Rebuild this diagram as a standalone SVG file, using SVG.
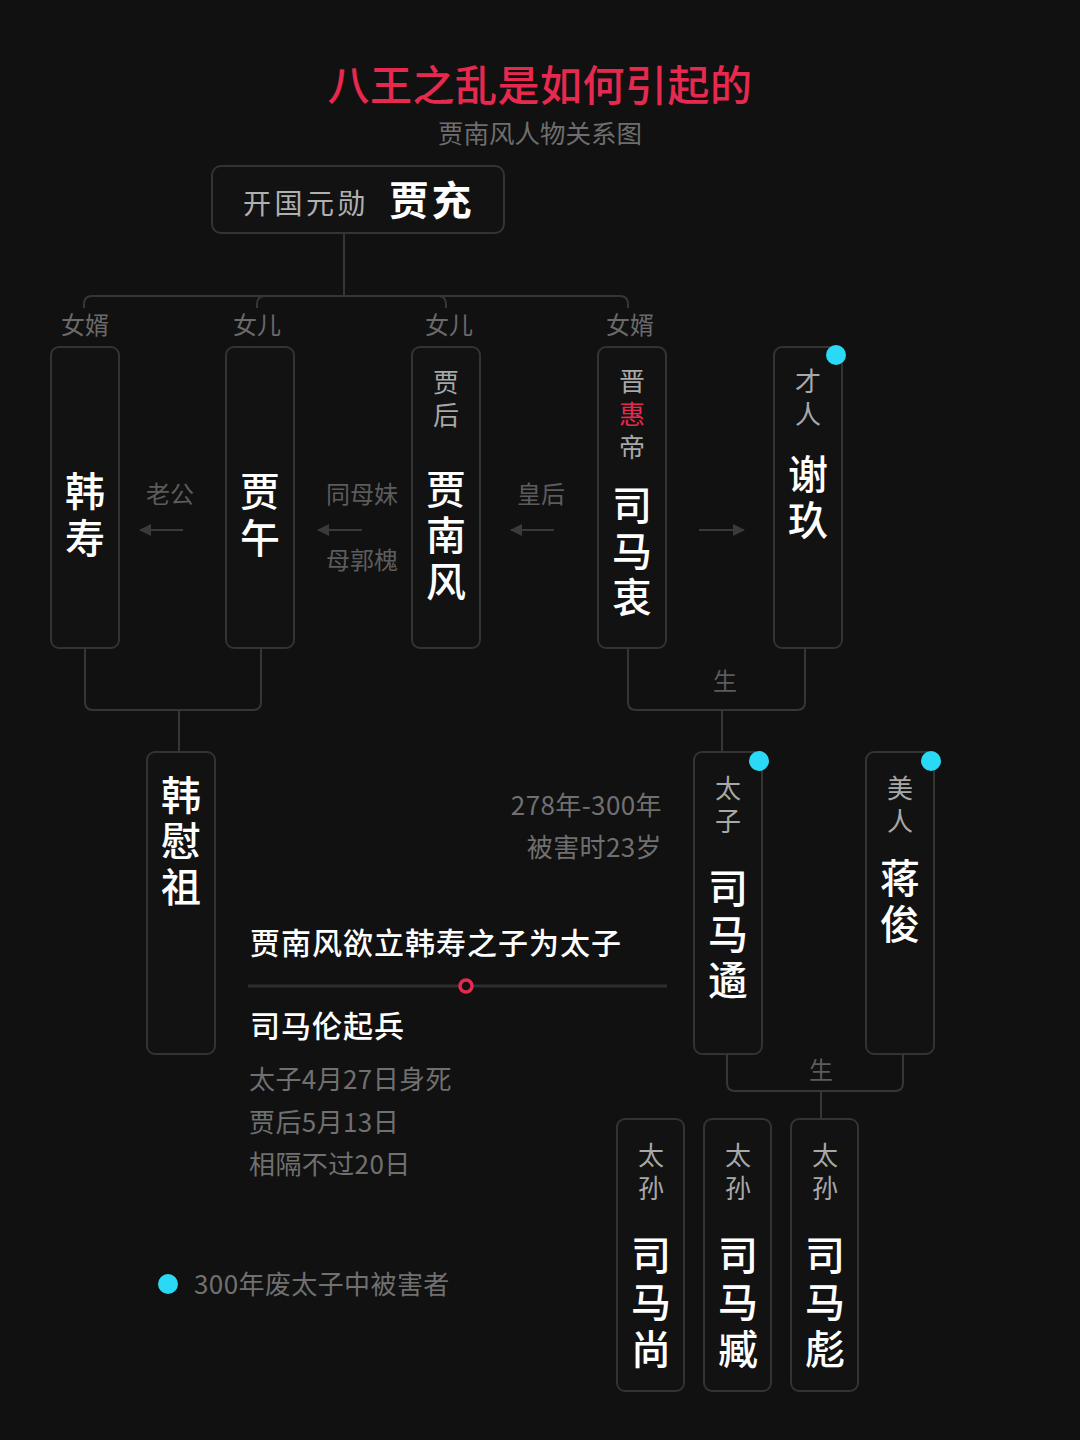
<svg xmlns="http://www.w3.org/2000/svg" width="1080" height="1440" viewBox="0 0 1080 1440">
<defs>
<style>
text{font-family:"Noto Sans CJK SC","Noto Sans",sans-serif;}
.box{fill:#121212;stroke:#333333;stroke-width:2;}
.line{fill:none;stroke:#363636;stroke-width:2;}
.name{fill:#ffffff;font-size:40px;font-weight:500;writing-mode:vertical-rl;text-orientation:upright;letter-spacing:6px;}
.sub{fill:#a8a8a8;font-size:26px;writing-mode:vertical-rl;text-orientation:upright;letter-spacing:7px;}
.rel{fill:#6a6a6a;font-size:24px;text-anchor:middle;}
.arrlab{fill:#5c5c5c;font-size:24px;text-anchor:middle;}
.gray{fill:#707070;font-size:26px;letter-spacing:0.4px;}
.white{fill:#ffffff;font-size:30px;font-weight:500;letter-spacing:1px;}
.dot{fill:#2ad9f5;}
.arr{stroke:#3a3a3a;stroke-width:2;fill:none;}
</style>
<marker id="ah2" viewBox="0 0 12 12" refX="11" refY="6" markerWidth="12" markerHeight="12" orient="auto" markerUnits="userSpaceOnUse">
<path d="M0,0 L12,6 L0,12 Z" fill="#3a3a3a"/>
</marker>
</defs>
<rect width="1080" height="1440" fill="#111111"/>

<g id="title">
<text x="540" y="101" text-anchor="middle" font-size="42" font-weight="500" fill="#e8294f" letter-spacing="0.5">八王之乱是如何引起的</text>
<text x="540" y="143" text-anchor="middle" font-size="25.5" fill="#6e6e6e">贾南风人物关系图</text>
</g>

<g id="connectors">
<path class="line" d="M344,233 V296"/>
<path class="line" d="M84,308 V304 Q84,296 92,296 H438 Q446,296 446,304 V308"/>
<path class="line" d="M257,308 V304 Q257,296 265,296 H620 Q628,296 628,304 V308"/>
<path class="line" d="M85,648 V702 Q85,710 93,710 H253 Q261,710 261,702 V648"/>
<path class="line" d="M179,710 V752"/>
<path class="line" d="M628,648 V702 Q628,710 636,710 H797 Q805,710 805,702 V648"/>
<path class="line" d="M722,710 V752"/>
<path class="line" d="M727,1054 V1083 Q727,1091 735,1091 H895 Q903,1091 903,1083 V1054"/>
<path class="line" d="M821,1091 V1119"/>
<line class="arr" x1="183" y1="530" x2="140" y2="530" marker-end="url(#ah2)"/>
<line class="arr" x1="362" y1="530" x2="318" y2="530" marker-end="url(#ah2)"/>
<line class="arr" x1="554" y1="530" x2="511" y2="530" marker-end="url(#ah2)"/>
<line class="arr" x1="699" y1="530" x2="744" y2="530" marker-end="url(#ah2)"/>
<text class="rel" x="85" y="334">女婿</text>
<text class="rel" x="257" y="334">女儿</text>
<text class="rel" x="449" y="334">女儿</text>
<text class="rel" x="630" y="334">女婿</text>
<text class="arrlab" x="170" y="503">老公</text>
<text class="arrlab" x="362" y="503">同母妹</text>
<text class="arrlab" x="362" y="569">母郭槐</text>
<text class="arrlab" x="541" y="503">皇后</text>
<text class="arrlab" x="725" y="690">生</text>
<text class="arrlab" x="821" y="1079">生</text>
</g>

<g id="jiachong">
<rect class="box" x="212" y="166" width="292" height="67" rx="9"/>
<text x="243" y="214" font-size="28" fill="#b0b0b0" letter-spacing="3.5">开国元勋</text>
<text x="389" y="215" font-size="40" font-weight="700" fill="#ffffff" letter-spacing="2.5">贾充</text>
</g>

<g id="hanshou">
<rect class="box" x="51" y="347" width="68" height="301" rx="8"/>
<text class="name" x="85" y="471" style="letter-spacing:7px">韩寿</text>
</g>

<g id="jiawu">
<rect class="box" x="226" y="347" width="68" height="301" rx="8"/>
<text class="name" x="260" y="471" style="letter-spacing:7px">贾午</text>
</g>

<g id="jianfeng">
<rect class="box" x="412" y="347" width="68" height="301" rx="8"/>
<text class="sub" x="446" y="369">贾后</text>
<text class="name" x="446" y="469">贾南风</text>
</g>

<g id="simazhong">
<rect class="box" x="598" y="347" width="68" height="301" rx="8"/>
<text class="sub" x="632" y="368">晋<tspan fill="#e8294f">惠</tspan>帝</text>
<text class="name" x="632" y="485">司马衷</text>
</g>

<g id="xiejiu">
<rect class="box" x="774" y="347" width="68" height="301" rx="8"/>
<text class="sub" x="808" y="368">才人</text>
<text class="name" x="808" y="454">谢玖</text>
<circle class="dot" cx="836" cy="355" r="10"/>
</g>

<g id="hanweizu">
<rect class="box" x="147" y="752" width="68" height="302" rx="8"/>
<text class="name" x="181" y="775">韩慰祖</text>
</g>

<g id="simayu">
<rect class="box" x="694" y="752" width="68" height="302" rx="8"/>
<text class="sub" x="728" y="775">太子</text>
<text class="name" x="728" y="868">司马遹</text>
<circle class="dot" cx="759" cy="761" r="10"/>
</g>

<g id="jiangjun">
<rect class="box" x="866" y="752" width="68" height="302" rx="8"/>
<text class="sub" x="900" y="775">美人</text>
<text class="name" x="900" y="858">蒋俊</text>
<circle class="dot" cx="931" cy="761" r="10"/>
</g>

<g id="simashang">
<rect class="box" x="617" y="1119" width="67" height="272" rx="8"/>
<text class="sub" x="651" y="1142">太孙</text>
<text class="name" x="651" y="1235" style="letter-spacing:7px">司马尚</text>
</g>

<g id="simazang">
<rect class="box" x="704" y="1119" width="67" height="272" rx="8"/>
<text class="sub" x="738" y="1142">太孙</text>
<text class="name" x="738" y="1235" style="letter-spacing:7px">司马臧</text>
</g>

<g id="simabiao">
<rect class="box" x="791" y="1119" width="67" height="272" rx="8"/>
<text class="sub" x="825" y="1142">太孙</text>
<text class="name" x="825" y="1235" style="letter-spacing:7px">司马彪</text>
</g>

<g id="timeline">
<text class="gray" x="662" y="815" text-anchor="end" font-size="26.5">278年-300年</text>
<text class="gray" x="662" y="857" text-anchor="end">被害时23岁</text>
<text class="white" x="250" y="954">贾南风欲立韩寿之子为太子</text>
<line x1="248" y1="986" x2="667" y2="986" stroke="#2e2e2e" stroke-width="3"/>
<circle cx="466" cy="986" r="6" fill="#111111" stroke="#e8294f" stroke-width="3.5"/>
<text class="white" x="250" y="1037">司马伦起兵</text>
<text class="gray" x="249" y="1089">太子4月27日身死</text>
<text class="gray" x="249" y="1132">贾后5月13日</text>
<text class="gray" x="249" y="1174">相隔不过20日</text>
</g>

<g id="legend">
<circle class="dot" cx="168" cy="1284" r="10"/>
<text class="gray" x="194" y="1294">300年废太子中被害者</text>
</g>
</svg>
